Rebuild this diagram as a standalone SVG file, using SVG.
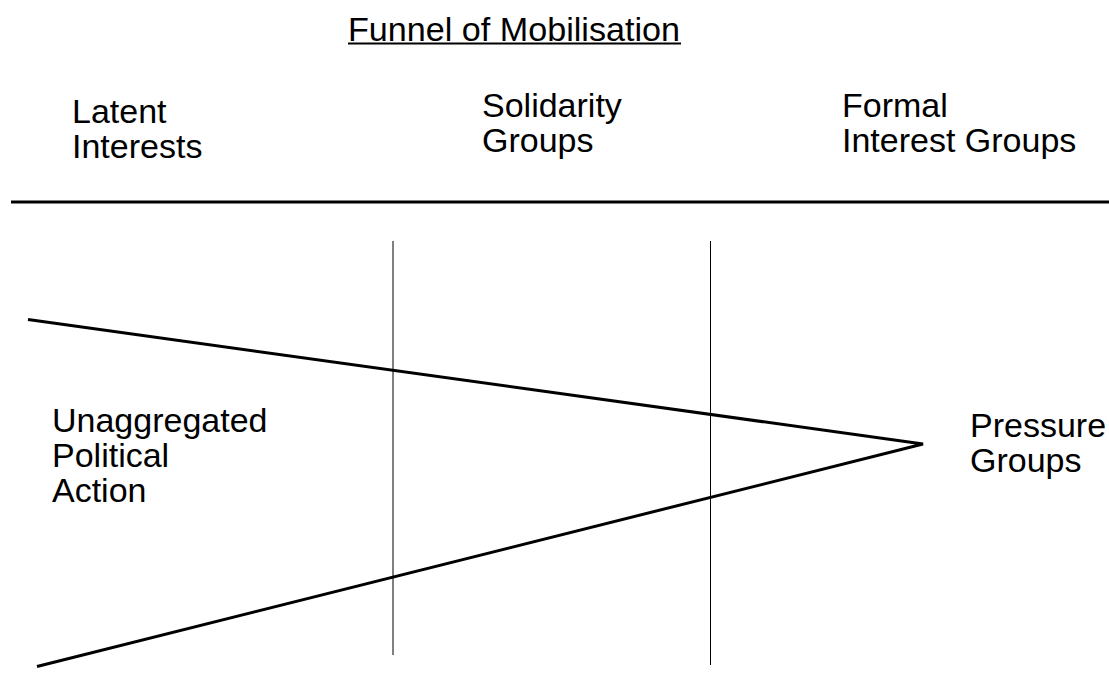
<svg xmlns="http://www.w3.org/2000/svg" width="1109" height="689" viewBox="0 0 1109 689">
  <style>
    text { font-family: "Liberation Sans", Arial, sans-serif; font-size: 34px; fill: #000; }
    .title { font-size: 34px; }
    .thick { stroke: #000; stroke-width: 3; fill: none; stroke-linecap: butt; }
    .thin { stroke: #000; stroke-width: 1; fill: none; }
  </style>
  <rect width="1109" height="689" fill="#fff"/>
  <g id="title">
    <text class="title" x="348" y="40.5" textLength="332" lengthAdjust="spacingAndGlyphs">Funnel of Mobilisation</text>
    <line x1="348" y1="43.5" x2="681" y2="43.5" stroke="#000" stroke-width="2"/>
  </g>
  <g id="latent-interests">
    <text x="72" y="123">Latent</text>
    <text x="72" y="158">Interests</text>
  </g>
  <g id="solidarity-groups">
    <text x="482" y="117">Solidarity</text>
    <text x="482" y="152">Groups</text>
  </g>
  <g id="formal-interest-groups">
    <text x="842" y="117">Formal</text>
    <text x="842" y="152">Interest Groups</text>
  </g>
  <g id="unaggregated-political-action">
    <text x="52" y="432">Unaggregated</text>
    <text x="52" y="467">Political</text>
    <text x="52" y="502">Action</text>
  </g>
  <g id="pressure-groups">
    <text x="970" y="437">Pressure</text>
    <text x="970" y="472">Groups</text>
  </g>
  <g id="connectors">
    <line class="thick" x1="11" y1="202" x2="1109" y2="202"/>
    <line class="thin" x1="393" y1="241" x2="393" y2="655"/>
    <line class="thin" x1="710.5" y1="241" x2="710.5" y2="665"/>
    <polyline class="thick" points="28,319.5 923,444 37,666.5" stroke-linejoin="miter"/>
  </g>
</svg>
